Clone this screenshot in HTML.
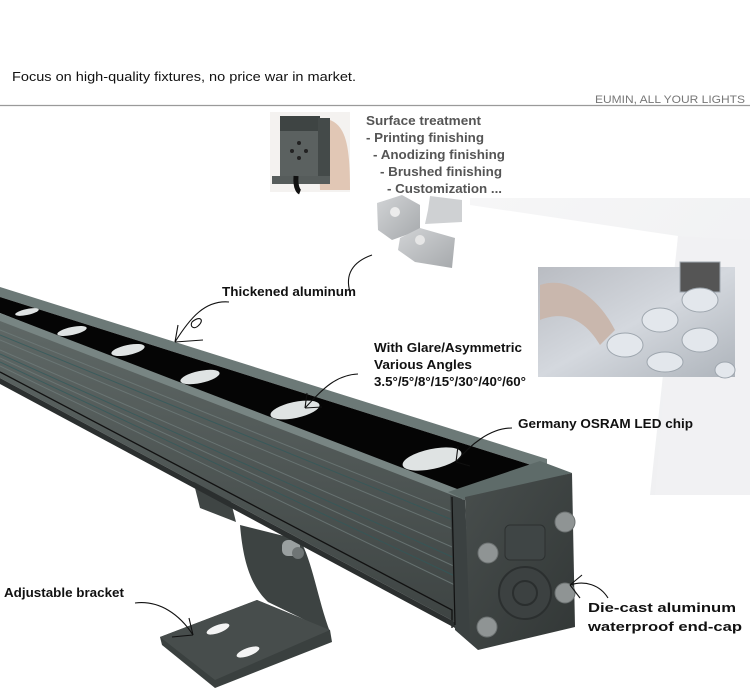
<!DOCTYPE html>
<html><head><meta charset="utf-8">
<style>
html,body{margin:0;padding:0;background:#fff;}
svg{display:block;}
text{font-family:"Liberation Sans",Arial,sans-serif;}
</style></head>
<body>
<svg width="750" height="694" viewBox="0 0 750 694" xmlns="http://www.w3.org/2000/svg">
<defs>
<linearGradient id="bg" x1="0" y1="0" x2="1" y2="1">
<stop offset="0" stop-color="#f6f6f7"/><stop offset="1" stop-color="#eeeff1"/>
</linearGradient>
<linearGradient id="side" x1="0" y1="0" x2="0" y2="1">
<stop offset="0" stop-color="#5f6866"/><stop offset="1" stop-color="#3e4443"/>
</linearGradient>
<linearGradient id="cap" x1="0" y1="0" x2="1" y2="1">
<stop offset="0" stop-color="#484e4d"/><stop offset="1" stop-color="#323736"/>
</linearGradient>
<linearGradient id="lens" x1="0" y1="0" x2="1" y2="1">
<stop offset="0" stop-color="#b9bcc2"/><stop offset="0.5" stop-color="#d4d8de"/><stop offset="1" stop-color="#aeb4bb"/>
</linearGradient>
<linearGradient id="alu" x1="0" y1="0" x2="1" y2="1">
<stop offset="0" stop-color="#d2d4d6"/><stop offset="1" stop-color="#a6a9ac"/>
</linearGradient>
</defs>

<text x="12" y="81" font-size="12.5" fill="#111" textLength="344" lengthAdjust="spacingAndGlyphs">Focus on high-quality fixtures, no price war in market.</text>
<line x1="0" y1="105.5" x2="750" y2="105.5" stroke="#9a9a9a" stroke-width="1.2"/>
<text x="745" y="103" font-size="11" fill="#777" text-anchor="end" textLength="150" lengthAdjust="spacingAndGlyphs">EUMIN, ALL YOUR LIGHTS</text>

<polygon points="470,198 750,198 750,495 650,495 678,236 470,205" fill="url(#bg)"/>
<polygon points="678,236 750,240 750,495 655,495" fill="#f1f1f3"/>

<rect x="538" y="267" width="197" height="110" fill="url(#lens)"/>
<g fill="#e3e7ec" stroke="#9ea6ae" stroke-width="1">
<rect x="680" y="262" width="40" height="30" fill="#555"/>
<ellipse cx="700" cy="300" rx="18" ry="12"/><ellipse cx="660" cy="320" rx="18" ry="12"/>
<ellipse cx="625" cy="345" rx="18" ry="12"/><ellipse cx="700" cy="340" rx="18" ry="12"/>
<ellipse cx="665" cy="362" rx="18" ry="10"/><ellipse cx="725" cy="370" rx="10" ry="8"/>
</g>
<path d="M540,285 C570,275 600,300 615,330 L600,345 C585,320 565,310 540,320 Z" fill="#c9b7ad"/>

<rect x="270" y="112" width="80" height="80" fill="#f4f2f0"/>
<path d="M318,118 C345,118 350,140 350,190 L320,190 Z" fill="#e1c7b5"/>
<rect x="280" y="116" width="40" height="16" fill="#3e4443"/>
<rect x="280" y="131" width="38" height="46" fill="#5b6160"/>
<rect x="318" y="118" width="12" height="58" fill="#444a49"/>
<rect x="272" y="176" width="58" height="8" fill="#565c5b"/>
<path d="M296,176 C295,190 300,192 300,192" stroke="#111" stroke-width="5" fill="none"/>
<g fill="#222"><circle cx="299" cy="143" r="2"/><circle cx="292" cy="151" r="2"/><circle cx="306" cy="151" r="2"/><circle cx="299" cy="158" r="2"/></g>

<polygon points="377,203 402,195 420,205 420,230 392,240 378,230" fill="url(#alu)"/>
<polygon points="430,196 462,200 462,222 425,224 428,210" fill="#cfd1d3"/>
<polygon points="400,238 420,228 455,238 452,268 415,262 398,250" fill="url(#alu)"/>
<circle cx="395" cy="212" r="5" fill="#ececec"/><circle cx="420" cy="240" r="5" fill="#e6e6e6"/>

<g font-size="12.5" font-weight="bold" fill="#555">
<text x="366" y="125" textLength="115" lengthAdjust="spacingAndGlyphs">Surface treatment</text>
<text x="366" y="142" textLength="118" lengthAdjust="spacingAndGlyphs">- Printing finishing</text>
<text x="373" y="159" textLength="132" lengthAdjust="spacingAndGlyphs">- Anodizing finishing</text>
<text x="380" y="176" textLength="122" lengthAdjust="spacingAndGlyphs">- Brushed finishing</text>
<text x="387" y="193" textLength="115" lengthAdjust="spacingAndGlyphs">- Customization ...</text>
</g>

<polygon points="193,480 228,490 236,522 200,508" fill="#3f4544"/>
<path d="M240,525 L300,540 C312,560 318,600 330,632 L268,602 C250,585 243,560 240,525 Z" fill="#3d4342"/>
<polygon points="160,637 257,600 330,630 332,642 215,688 162,645" fill="#3a403f"/>
<polygon points="160,637 257,600 330,630 215,680" fill="#474d4c"/>
<ellipse cx="218" cy="629" rx="12" ry="4" transform="rotate(-20 218 629)" fill="#f4f4f4"/>
<ellipse cx="248" cy="652" rx="12" ry="4" transform="rotate(-20 248 652)" fill="#f4f4f4"/>
<rect x="282" y="540" width="18" height="16" rx="6" fill="#9aa0a0"/>
<circle cx="298" cy="553" r="6" fill="#6f7575"/>

<polygon points="0,320 462,497 455,622 0,378" fill="url(#side)"/>
<g stroke="#6f7b7a" stroke-width="1" opacity="0.8">
<line x1="0" y1="330" x2="460" y2="515"/><line x1="0" y1="340" x2="460" y2="532"/>
<line x1="0" y1="350" x2="459" y2="550"/><line x1="0" y1="358" x2="458" y2="568"/>
<line x1="0" y1="366" x2="457" y2="586"/>
</g>
<g stroke="#2f5a5c" stroke-width="1" opacity="0.7">
<line x1="0" y1="335" x2="460" y2="523"/><line x1="0" y1="354" x2="459" y2="560"/><line x1="0" y1="362" x2="457" y2="577"/>
</g>
<polyline points="0,372 452,610 452,628" stroke="#111" stroke-width="1.3" fill="none"/>
<polygon points="0,378 455,622 455,628 0,384" fill="#2b2f2f"/>

<polygon points="0,287 547,459 547,470 0,297" fill="#6c7977"/>
<polygon points="0,297 547,470 465,497 0,313" fill="#050505"/>
<polygon points="0,313 465,492 465,500 0,321" fill="#788583"/>

<g fill="#dfe3e3">
<ellipse cx="27" cy="312" rx="12" ry="3" transform="rotate(-12 27 312)"/>
<ellipse cx="72" cy="331" rx="15" ry="4" transform="rotate(-12 72 331)"/>
<ellipse cx="128" cy="350" rx="17" ry="5" transform="rotate(-12 128 350)"/>
<ellipse cx="200" cy="377" rx="20" ry="6" transform="rotate(-12 200 377)"/>
<ellipse cx="295" cy="410" rx="25" ry="8" transform="rotate(-12 295 410)"/>
<ellipse cx="432" cy="459" rx="30" ry="10" transform="rotate(-12 432 459)"/>
</g>

<polygon points="448,492 540,461 572,473 465,500" fill="#5e6b69"/>
<polygon points="450,495 465,500 472,640 478,650 455,630" fill="#3b4141"/>
<polygon points="465,497 572,473 575,627 478,650 470,640" fill="url(#cap)"/>
<line x1="452" y1="497" x2="455" y2="625" stroke="#111" stroke-width="1.2"/>
<g fill="#8f9494" stroke="#6c7171">
<circle cx="488" cy="553" r="10"/><circle cx="565" cy="522" r="10"/>
<circle cx="487" cy="627" r="10"/><circle cx="565" cy="593" r="10"/>
</g>
<rect x="505" y="525" width="40" height="35" rx="5" fill="#3f4545" stroke="#2c3030"/>
<circle cx="525" cy="593" r="26" fill="#3c4141" stroke="#2b2f2f" stroke-width="2"/>
<circle cx="525" cy="593" r="12" fill="none" stroke="#2a2e2e" stroke-width="2"/>

<g stroke="#111" stroke-width="1.1" fill="none">
<path d="M372,255 C352,262 345,275 350,292"/>
<path d="M229,302 C205,300 190,318 175,342"/><path d="M175,342 L203,340"/><path d="M175,342 L178,325"/><path d="M192,322 C200,315 205,320 198,326 C193,330 190,326 192,322"/>
<path d="M358,374 C335,375 322,390 305,408"/><path d="M305,408 L322,407"/><path d="M305,408 L307,393"/>
<path d="M512,428 C490,428 470,445 456,462"/><path d="M456,462 L470,466"/><path d="M456,462 L458,446"/>
<path d="M135,603 C160,600 180,615 193,635"/><path d="M193,635 L189,618"/><path d="M193,635 L172,637"/>
<path d="M608,598 C600,585 585,580 570,585"/><path d="M570,585 L582,575"/><path d="M570,585 L580,598"/>
</g>

<g font-size="13" font-weight="bold" fill="#111">
<text x="222" y="296" textLength="134" lengthAdjust="spacingAndGlyphs">Thickened aluminum</text>
<text x="374" y="352" textLength="148" lengthAdjust="spacingAndGlyphs">With Glare/Asymmetric</text>
<text x="374" y="369" textLength="98" lengthAdjust="spacingAndGlyphs">Various Angles</text>
<text x="374" y="386" textLength="152" lengthAdjust="spacingAndGlyphs">3.5°/5°/8°/15°/30°/40°/60°</text>
<text x="518" y="428" textLength="175" lengthAdjust="spacingAndGlyphs">Germany OSRAM LED chip</text>
<text x="4" y="597" textLength="120" lengthAdjust="spacingAndGlyphs">Adjustable bracket</text>
<text x="588" y="612" textLength="148" lengthAdjust="spacingAndGlyphs">Die-cast aluminum</text>
<text x="588" y="631" textLength="154" lengthAdjust="spacingAndGlyphs">waterproof end-cap</text>
</g>
</svg>
</body></html>
